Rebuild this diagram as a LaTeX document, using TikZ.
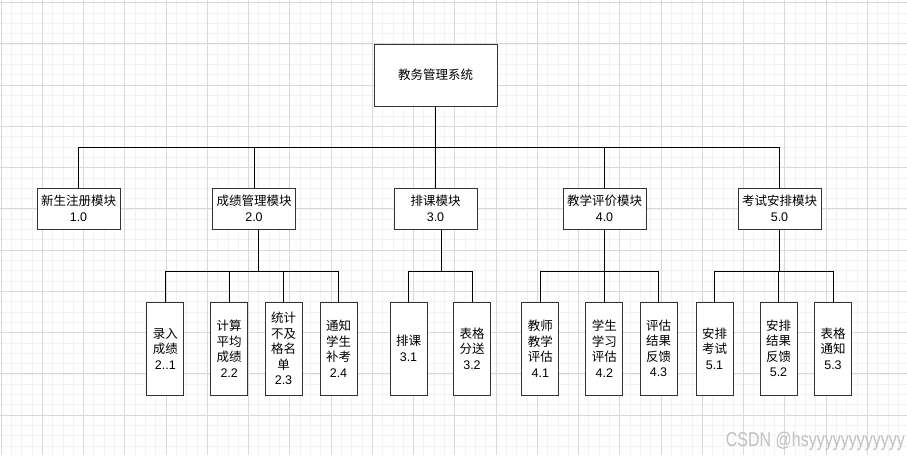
\documentclass[tikz,border=0pt]{standalone}
\usepackage{fontspec}
\setmainfont{Liberation Sans}
\newfontfamily\cjk{Noto Sans CJK SC}

\begin{document}
\begin{tikzpicture}[x=1pt,y=-1pt]
		\newcommand{\major}{41.25} % spacing of the main grid
		\newcommand{\minor}{10.3125} % spacing of the fine grid
		\newcommand{\gx}{1.05}
		\newcommand{\gy}{2.7}
		
		% set the style of the boxes
		\tikzset{
			root/.style={
				draw=black!80,
				line width=1pt,
				fill=white,
				minimum width=123pt,
				minimum height=62pt,
				inner sep=0pt,
				align=center,
				font=\cjk\fontsize{12.5}{15.5}\selectfont
				},
			module/.style={root, minimum width=83pt, minimum height=41pt},
			leaf/.style={root, minimum width=37pt, minimum height=93pt},
			link/.style={line width=0.9pt, black}
		}
		\useasboundingbox (0,0) rectangle (907,455);
		
		% grid
		\fill[white] (0,0) rectangle (907,455);
		\foreach \i in {0,...,87}
			\draw[black!5, line width=0.8pt] ({\gx+\i*\minor},0) -- ({\gx+\i*\minor},455);
		\foreach \i in {0,...,43}
			\draw[black!5, line width=0.8pt] (0,{\gy+\i*\minor}) -- (907,{\gy+\i*\minor});
		\foreach \i in {0,...,21}
			\draw[black!15, line width=1pt] ({\gx+\i*\major},0) -- ({\gx+\i*\major},455);
		\foreach \i in {0,...,10}
			\draw[black!15, line width=1pt] (0,{\gy+\i*\major}) -- (907,{\gy+\i*\major});
		
		% top
		\node[root] (sys) at (435.5,75) {教务管理系统};
		
		% modules
		\node[module] (m1) at (78.5,208.5) {新生注册模块\\\normalfont 1.0};
		\node[module] (m2) at (254,208.5) {成绩管理模块\\\normalfont 2.0};
		\node[module] (m3) at (435.5,208.5) {排课模块\\\normalfont 3.0};
		\node[module] (m4) at (604.5,208.5) {教学评价模块\\\normalfont 4.0};
		\node[module] (m5) at (779.5,208.5) {考试安排模块\\\normalfont 5.0};
		
		% leaves
		\node[leaf] (l21) at (165.3,348.5) {录入\\成绩\\\normalfont 2..1};
		\node[leaf] (l22) at (229.2,348.5) {计算\\平均\\成绩\\\normalfont 2.2};
		\node[leaf] (l23) at (283.5,348.5) {统计\\不及\\格名\\单\\\normalfont 2.3};
		\node[leaf] (l24) at (338.5,348.5) {通知\\学生\\补考\\\normalfont 2.4};
		\node[leaf] (l31) at (408.5,348.5) {排课\\\normalfont 3.1};
		\node[leaf] (l32) at (472,348.5) {表格\\分送\\\normalfont 3.2};
		\node[leaf] (l41) at (540.3,348.5) {教师\\教学\\评估\\\normalfont 4.1};
		\node[leaf] (l42) at (604.3,348.5) {学生\\学习\\评估\\\normalfont 4.2};
		\node[leaf] (l43) at (658.5,348.5) {评估\\结果\\反馈\\\normalfont 4.3};
		\node[leaf] (l51) at (714.5,348.5) {安排\\考试\\\normalfont 5.1};
		\node[leaf] (l52) at (778.5,348.5) {安排\\结果\\反馈\\\normalfont 5.2};
		\node[leaf] (l53) at (833,348.5) {表格\\通知\\\normalfont 5.3};
		
		% links
		\foreach \m in {m1,m2,m3,m4,m5}
			\draw[link] (sys.south) -- ++(0,41) -| (\m.north);
		\foreach \l in {l21,l22,l23,l24}
			\draw[link] ([xshift=4pt]m2.south) -- ++(0,41.7) -| (\l.north);
		\foreach \l in {l31,l32}
			\draw[link] ([xshift=6pt]m3.south) -- ++(0,41.7) -| (\l.north);
		\foreach \l in {l41,l42,l43}
			\draw[link] (m4.south) -- ++(0,41.7) -| (\l.north);
		\foreach \l in {l51,l52,l53}
			\draw[link] (m5.south) -- ++(0,41.7) -| (\l.north);
		
		% watermark
		\node[text=black!25, anchor=east, inner sep=0pt] (mark) at (905,441.7)
			{\scalebox{0.8}[1]{\fontsize{20}{20}\selectfont CSDN @hsyyyyyyyyyyyy}};
		
\end{tikzpicture}
\end{document}
